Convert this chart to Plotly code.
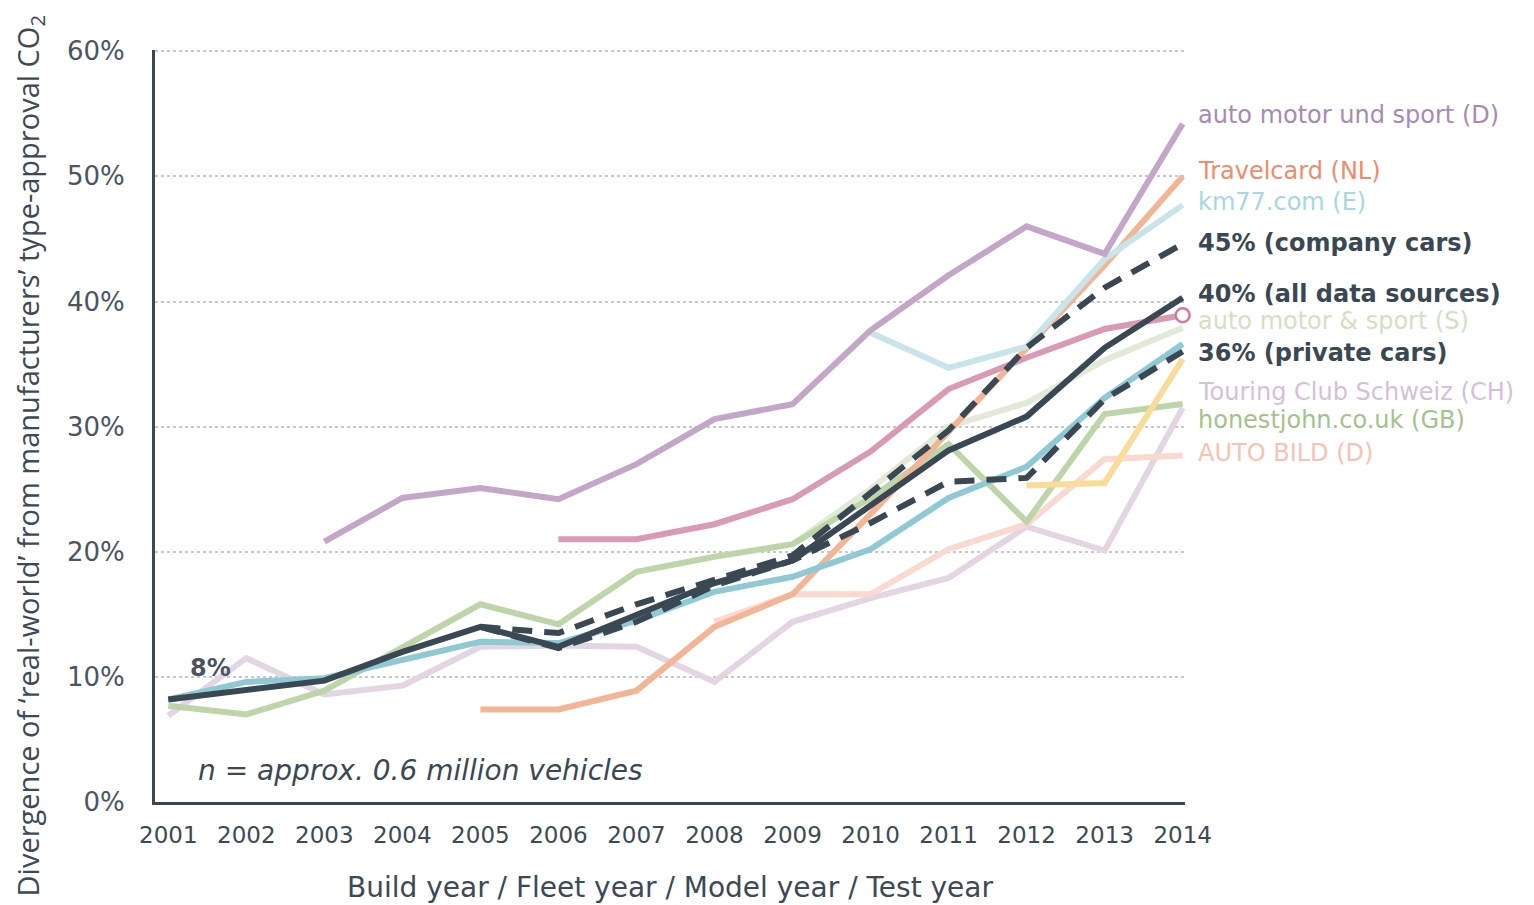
import plotly.graph_objects as go

years = list(range(2001, 2015))

ams_d = [None, None, 20.8, 24.3, 25.1, 24.2, 27.0, 30.6, 31.8, 37.7, 42.1, 46.0, 43.8, 54.2]
travelcard = [None, None, None, None, 7.4, 7.4, 8.9, 14.0, 16.6, 23.0, 29.6, 36.2, 42.9, 50.0]
km77 = [None] * 9 + [37.5, 34.7, 36.4, 43.4, 47.7]
company = [None] * 4 + [14.0, 13.5, 15.8, 17.8, 19.7, 24.7, 29.7, 36.3, 41.1, 44.6]
all_src = [8.2, 8.9, 9.7, 12.0, 14.0, 12.4, 15.0, 17.5, 19.3, 23.7, 28.1, 30.8, 36.3, 40.3]
ams_s = [None] * 8 + [20.6, 25.0, 30.0, 31.9, 35.3, 37.9]
private = [None] * 4 + [14.0, 12.3, 14.4, 17.3, 19.3, 22.3, 25.6, 25.9, 32.2, 36.0]
tcs = [6.9, 11.5, 8.6, 9.3, 12.4, 12.5, 12.4, 9.6, 14.4, 16.3, 17.9, 22.0, 20.1, 31.5]
honestjohn = [7.7, 7.0, 8.9, 12.3, 15.8, 14.2, 18.4, 19.6, 20.6, 24.3, 28.6, 22.4, 31.0, 31.8]
autobild = [None] * 7 + [14.4, 16.6, 16.6, 20.2, 22.2, 27.4, 27.7]
teal = [8.2, 9.6, 9.9, 11.3, 12.8, 12.7, 14.5, 16.8, 18.0, 20.2, 24.3, 26.8, 32.3, 36.6]
pink = [None] * 5 + [21.0, 21.0, 22.2, 24.2, 28.0, 33.0, 35.5, 37.8, 38.9]
yellow = [None] * 11 + [25.3, 25.5, 35.4]

y_ticks = [0, 10, 20, 30, 40, 50, 60]
y_tick_text = ["0%", "10%", "20%", "30%", "40%", "50%", "60%"]

labels = ["auto motor und sport (D)", "Travelcard (NL)", "km77.com (E)",
          "<b>45% (company cars)</b>", "<b>40% (all data sources)</b>",
          "auto motor & sport (S)", "<b>36% (private cars)</b>",
          "Touring Club Schweiz (CH)", "honestjohn.co.uk (GB)", "AUTO BILD (D)"]
label_y = [0.9136, 0.8390, 0.7980, 0.7434, 0.6755, 0.6396, 0.5970, 0.5452, 0.5080, 0.4641]
label_colors = ["#a98ab3", "#ee8c6c", "#a8d7e0", "#3a4853", "#3a4853",
                "#d2e1c3", "#3a4853", "#d6bfd9", "#a5c28c", "#f6c3b4"]

DARK = "#3a4853"
LW = 6

fig = go.Figure()

light_series = [
    (tcs, "#e3d5e3"),
    (autobild, "#f9d9d0"),
    (ams_s, "#e0ead6"),
    (honestjohn, "#bed5a9"),
    (yellow, "#f9dc97"),
    (travelcard, "#f2b596"),
    (km77, "#cae5ea"),
    (teal, "#8fc9d3"),
    (pink, "#d99bb3"),
    (ams_d, "#c4a6c8"),
]
for vals, col in light_series:
    fig.add_trace(go.Scatter(x=years, y=vals, mode="lines",
                             line=dict(color=col, width=LW), connectgaps=False,
                             hoverinfo="skip", showlegend=False))

# open circle at end of pink series
fig.add_trace(go.Scatter(x=[years[-1]], y=[pink[-1]], mode="markers", cliponaxis=False,
                         marker=dict(symbol="circle", size=14, color="white",
                                     line=dict(color="#d27a9e", width=2.5)),
                         hoverinfo="skip", showlegend=False))

for vals in (company, private):
    fig.add_trace(go.Scatter(x=years, y=vals, mode="lines",
                             line=dict(color=DARK, width=LW, dash="20px,12px"),
                             hoverinfo="skip", showlegend=False))
fig.add_trace(go.Scatter(x=years, y=all_src, mode="lines",
                         line=dict(color=DARK, width=LW),
                         hoverinfo="skip", showlegend=False))

annotations = []
for txt, yv, col in zip(labels, label_y, label_colors):
    annotations.append(dict(x=1.0105, y=yv, xref="paper", yref="paper", text=txt,
                            showarrow=False, xanchor="left", yanchor="middle",
                            font=dict(family="DejaVu Sans", size=24, color=col)))
annotations.append(dict(x=2001.54, y=10.7, xref="x", yref="y", text="<b>8%</b>",
                        showarrow=False, xanchor="center", yanchor="middle",
                        font=dict(family="DejaVu Sans", size=24, color="#4a5560")))
annotations.append(dict(x=2001.35, y=2.5, xref="x", yref="y",
                        text="<i>n = approx. 0.6 million vehicles</i>",
                        showarrow=False, xanchor="left", yanchor="middle",
                        font=dict(family="DejaVu Sans", size=28, color=DARK)))
annotations.append(dict(x=-0.122, y=0.46, xref="paper", yref="paper",
                        text="Divergence of ‘real-world’ from manufacturers’ type-approval CO<sub>2</sub>",
                        showarrow=False, textangle=-90, xanchor="center", yanchor="middle",
                        font=dict(family="Open Sans", size=29, color="#3d4954")))
annotations.append(dict(x=0.5, y=-0.114, xref="paper", yref="paper",
                        text="Build year / Fleet year / Model year / Test year",
                        showarrow=False, xanchor="center", yanchor="middle",
                        font=dict(family="DejaVu Sans", size=28, color="#3d4954")))

fig.update_layout(
    width=1534, height=905,
    margin=dict(l=155, r=349, t=50, b=103),
    plot_bgcolor="white", paper_bgcolor="white",
    annotations=annotations,
    xaxis=dict(range=[2000.83, 2014.03], tickmode="array", tickvals=years,
               ticktext=[str(y) for y in years], showgrid=False, zeroline=False,
               showline=True, linecolor=DARK, linewidth=3, ticks="",
               ticklabelstandoff=10,
               tickfont=dict(family="DejaVu Sans", size=23, color="#3d4954")),
    yaxis=dict(range=[0, 60.1], tickmode="array", tickvals=y_ticks, ticktext=y_tick_text,
               showgrid=True, gridcolor="#c8c8c8", gridwidth=1.5, griddash="dot",
               zeroline=False, showline=True, linecolor=DARK, linewidth=3, ticks="",
               ticklabelstandoff=22,
               tickfont=dict(family="DejaVu Sans", size=26, color="#4a5560")),
)

fig.write_html("out.html", config={"displayModeBar": False},
               post_script="document.body.style.margin='0px';document.body.style.overflow='hidden';")
